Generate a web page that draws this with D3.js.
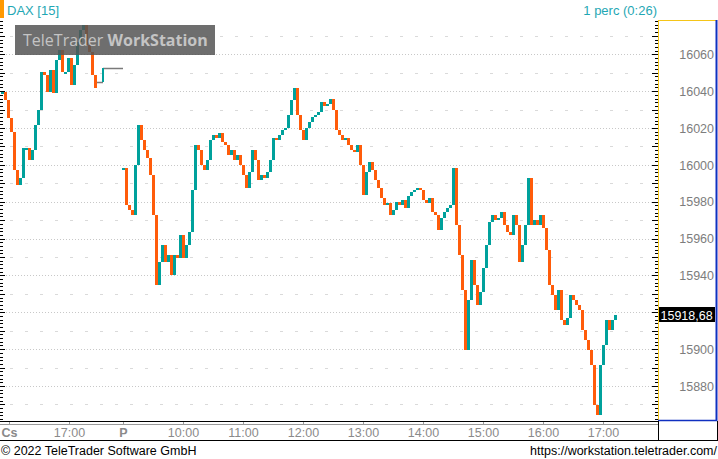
<!DOCTYPE html>
<html><head><meta charset="utf-8">
<script src="https://cdn.jsdelivr.net/npm/d3@7/dist/d3.min.js"></script>
<style>
body{margin:0;background:#fff;overflow:hidden}
svg{display:block;font-family:"Liberation Sans",Arial,sans-serif}
</style>
</head><body>
<svg id="chart" width="718" height="459"></svg>
<script>
// ---------------- data ----------------
const instrument = "DAX [15]";
const intervalLabel = "1 perc (0:26)";
const prevSession = ["15:51", "17:54"];
const todaySession = ["09:00", "17:55"];
const stepMinutes = 3;
const prevStart = "15:53";
const prevCloses = [16039.5,16035.2,16025.4,16017.8,15997.2,15989.1,15992.9,16009.1,16009.1,16002.6,
  16008.1,16021.6,16029.8,16050.4,16048.8,16039.5,16051.5,16039.0,16056.9,16062.3,
  16050.4,16050.4,16058.0,16043.3,16054.2,16066.7,16073.2,16075.9,16065.0,16061.2,
  16048.8,16041.7];
const afterHours = [["17:28","17:34",16045.0],["17:34","17:54",16052.6]];
const todayStart = "09:00";
const todayCloses = [15998.3,15978.2,15975.5,15972.8,15999.9,16021.6,16013.5,16008.1,16003.7,15994.5,
  15972.8,15934.8,15947.3,15956.5,15947.3,15951.1,15940.2,15951.1,15949.5,15961.9,
  15949.5,15956.5,15963.6,15986.4,16010.8,16008.1,15999.9,15997.2,16002.6,16013.5,
  16016.2,16014.6,16017.3,16012.4,16010.8,16005.3,16008.1,16002.6,16005.3,15999.9,
  15994.5,15987.4,15996.1,16008.1,16002.6,15991.8,15994.5,15992.9,15996.1,16002.6,
  16014.6,16013.5,16016.2,16018.9,16020.0,16027.1,16035.2,16041.7,16027.1,16018.9,
  16013.5,16020.0,16023.3,16026.0,16027.1,16028.7,16034.1,16031.9,16033.0,16035.7,
  16029.8,16018.9,16016.2,16013.5,16014.6,16010.8,16008.1,16007.0,16010.8,15999.9,
  15983.6,15996.1,16001.5,15997.2,15991.8,15987.4,15982.0,15978.2,15979.3,15972.8,
  15975.5,15979.8,15978.2,15980.9,15976.6,15983.1,15985.3,15986.4,15987.4,15986.4,
  15980.9,15979.3,15982.0,15974.4,15972.8,15964.6,15971.2,15974.4,15976.6,15978.2,
  15998.3,15967.4,15951.1,15932.1,15899.5,15926.7,15948.4,15934.8,15923.9,15931.0,
  15944.0,15956.5,15969.0,15972.8,15970.1,15971.2,15974.4,15967.4,15963.6,15961.9,
  15972.8,15967.4,15947.3,15956.5,15967.4,15992.9,15967.4,15970.1,15967.4,15972.8,
  15965.7,15953.8,15934.8,15929.4,15921.2,15932.1,15915.8,15913.1,15916.9,15929.4,
  15926.7,15923.9,15921.2,15910.4,15905.0,15899.5,15891.4,15869.7,15864.3,15891.4,
  15902.2,15915.8,15910.4,15915.8,15918.68];
const lastPrice = 15918.68;
const yLabelTicks = [15880,15900,15920,15940,15960,15980,16000,16020,16040,16060];
const yHalfTicks = [15870,15890,15910,15930,15950,15970,15990,16010,16030,16050,16070];
const yDomain = [15861.0, 16078.6];
const xLabels = [
  {session:"prev", time:"16:00", text:"Cs", bold:true},
  {session:"prev", time:"17:00", text:"17:00", bold:false},
  {session:"today", time:"09:00", text:"P", bold:true},
  {session:"today", time:"10:00", text:"10:00", bold:false},
  {session:"today", time:"11:00", text:"11:00", bold:false},
  {session:"today", time:"12:00", text:"12:00", bold:false},
  {session:"today", time:"13:00", text:"13:00", bold:false},
  {session:"today", time:"14:00", text:"14:00", bold:false},
  {session:"today", time:"15:00", text:"15:00", bold:false},
  {session:"today", time:"16:00", text:"16:00", bold:false},
  {session:"today", time:"17:00", text:"17:00", bold:false}
];
const copyright = "\u00a9 2022 TeleTrader Software GmbH";
const url = "https://workstation.teletrader.com/";

// ---------------- layout ----------------
const W = 718, H = 459;
const plot = {left:0, right:658, top:20, bottom:421};
const UP = "#00a19c", DOWN = "#ff5c0a", TEAL_TXT = "#1fa7b4";

const svg = d3.select("#chart");
const mins = t => { const [h,m] = t.split(":").map(Number); return h*60+m; };
const prevLen = mins(prevSession[1]) - mins(prevSession[0]);
const todayLen = mins(todaySession[1]) - mins(todaySession[0]);
const sessIndex = (session, t) => session === "prev"
  ? mins(t) - mins(prevSession[0])
  : prevLen + mins(t) - mins(todaySession[0]);
const addMin = (t, m) => { const v = mins(t)+m; return String(Math.floor(v/60)).padStart(2,"0")+":"+String(v%60).padStart(2,"0"); };

const x = d3.scaleLinear().domain([0, prevLen + todayLen]).range([plot.left, plot.right]);
const y = d3.scaleLinear().domain(yDomain).range([plot.bottom, plot.top]);

// grid
const grid = svg.append("g");
grid.selectAll("line.dot").data(yLabelTicks).join("line")
  .attr("x1", plot.left).attr("x2", plot.right)
  .attr("y1", d => Math.round(y(d)) + 0.5).attr("y2", d => Math.round(y(d)) + 0.5)
  .attr("stroke", "#c8c8c8").attr("stroke-dasharray", "1,2");
grid.selectAll("line.dash").data(yHalfTicks).join("line")
  .attr("x1", plot.left + 10).attr("x2", plot.right)
  .attr("y1", d => Math.round(y(d)) + 0.5).attr("y2", d => Math.round(y(d)) + 0.5)
  .attr("stroke", "#dadada").attr("stroke-dasharray", "3,12");

// bars
function barsFor(session, start, closes) {
  return closes.map((c, i) => {
    const o = i === 0 ? c : closes[i-1];
    return {idx: sessIndex(session, addMin(start, i*stepMinutes)), o, c};
  });
}
const bars = barsFor("prev", prevStart, prevCloses).concat(barsFor("today", todayStart, todayCloses));
svg.append("g").selectAll("rect").data(bars).join("rect")
  .attr("x", d => Math.round(x(d.idx)) - 1)
  .attr("width", 3)
  .attr("y", d => y(Math.max(d.o, d.c)))
  .attr("height", d => Math.max(2, Math.abs(y(d.o) - y(d.c))))
  .attr("fill", d => d.c >= d.o ? UP : DOWN)
  .attr("shape-rendering", "crispEdges");

// after-hours flat segments
const ah = svg.append("g");
afterHours.forEach((s, i) => {
  ah.append("line").attr("x1", x(sessIndex("prev", s[0]))).attr("x2", x(sessIndex("prev", s[1])))
    .attr("y1", Math.round(y(s[2])) + 0.5).attr("y2", Math.round(y(s[2])) + 0.5)
    .attr("stroke", "#7a7a7a").attr("stroke-width", 1.5);
  if (i > 0) {
    const xx = x(sessIndex("prev", s[0]));
    ah.append("line").attr("x1", xx).attr("x2", xx)
      .attr("y1", y(afterHours[i-1][2])).attr("y2", y(s[2]))
      .attr("stroke", s[2] >= afterHours[i-1][2] ? UP : DOWN).attr("stroke-width", 2);
  }
});

// watermark
svg.append("rect").attr("x", 15).attr("y", 25).attr("width", 200).attr("height", 30)
  .attr("fill", "#555").attr("fill-opacity", 0.85);
const wm = svg.append("text").attr("x", 23).attr("y", 46)
  .attr("font-family", "'Open Sans','Noto Sans',sans-serif").attr("font-size", 16)
  .attr("fill", "#c4c4c4");
wm.append("tspan").text("TeleTrader ");
wm.append("tspan").attr("font-weight", "bold").text("WorkStation");

// rulers (left and right)
const rulerVals = d3.range(Math.ceil(yDomain[0]/2)*2, yDomain[1], 2);
const rl = svg.append("g").attr("stroke", "#000");
rl.selectAll("line.l").data(rulerVals).join("line")
  .attr("x1", 0).attr("x2", d => d % 10 === 0 ? 5 : 3)
  .attr("y1", d => Math.round(y(d)) + 0.5).attr("y2", d => Math.round(y(d)) + 0.5);
rl.selectAll("line.r").data(rulerVals).join("line")
  .attr("x1", d => plot.right - (d % 10 === 0 ? 6 : 3)).attr("x2", plot.right)
  .attr("y1", d => Math.round(y(d)) + 0.5).attr("y2", d => Math.round(y(d)) + 0.5);

// right panel frame
svg.append("line").attr("x1", plot.right + 0.5).attr("x2", plot.right + 0.5).attr("y1", plot.top).attr("y2", plot.bottom)
  .attr("stroke", "#f5c518").attr("stroke-width", 1);
svg.append("line").attr("x1", plot.right).attr("x2", W - 1).attr("y1", plot.top + 0.5).attr("y2", plot.top + 0.5)
  .attr("stroke", "#f5c518");
svg.append("line").attr("x1", W - 1.5).attr("x2", W - 1.5).attr("y1", plot.top).attr("y2", plot.bottom)
  .attr("stroke", "#1030c0").attr("stroke-width", 2);
svg.append("line").attr("x1", plot.right).attr("x2", W - 1).attr("y1", plot.bottom - 0.5).attr("y2", plot.bottom - 0.5)
  .attr("stroke", "#1030c0").attr("stroke-width", 1.5);

// y labels
const yAxis = d3.axisRight(y).tickValues(yLabelTicks.filter(v => Math.abs(y(v) - y(lastPrice)) > 10))
  .tickSize(0).tickPadding(0).tickFormat(d3.format("d"));
const yg = svg.append("g").attr("transform", `translate(${W - 4},0)`).call(yAxis);
yg.select(".domain").remove();
yg.selectAll("text").attr("text-anchor", "end").attr("x", 0).attr("dy", "0.34em")
  .attr("font-size", 12.5).attr("font-family", "'Liberation Sans',Arial,sans-serif").attr("fill", "#7d7d7d");

// last price label
const ly = Math.round(y(lastPrice));
svg.append("rect").attr("x", plot.right + 1).attr("y", ly - 8).attr("width", 56).attr("height", 15).attr("fill", "#000");
svg.append("text").attr("x", plot.right + 2.5).attr("y", ly + 4.5).attr("font-size", 12.5)
  .attr("fill", "#fff").text(d3.format(".2f")(lastPrice).replace(".", ","));

// bottom x axis
svg.append("line").attr("x1", 0).attr("x2", plot.right).attr("y1", plot.bottom + 0.5).attr("y2", plot.bottom + 0.5).attr("stroke", "#000");
svg.append("line").attr("x1", 0).attr("x2", plot.right).attr("y1", plot.bottom + 3.5).attr("y2", plot.bottom + 3.5).attr("stroke", "#9a9a9a");
svg.append("line").attr("x1", 0).attr("x2", W).attr("y1", 440.5).attr("y2", 440.5).attr("stroke", "#000");
svg.append("line").attr("x1", plot.right + 0.5).attr("x2", plot.right + 0.5).attr("y1", plot.bottom).attr("y2", 441).attr("stroke", "#000");
svg.append("line").attr("x1", W - 0.5).attr("x2", W - 0.5).attr("y1", plot.bottom).attr("y2", 441).attr("stroke", "#000");
const xg = svg.append("g");
xLabels.forEach(l => {
  const xx = Math.round(x(sessIndex(l.session, l.time))) + 0.5;
  xg.append("line").attr("x1", xx).attr("x2", xx).attr("y1", plot.bottom + 1).attr("y2", plot.bottom + 3).attr("stroke", "#9a9a9a");
  xg.append("text").attr("x", xx).attr("y", 437).attr("text-anchor", "middle")
    .attr("font-size", 12.5).attr("font-weight", l.bold ? "bold" : "normal").attr("fill", "#8a8a8a").text(l.text);
});

// header
svg.append("rect").attr("x", 0).attr("y", 0).attr("width", 4).attr("height", 18).attr("fill", "#ff9900");
svg.append("text").attr("x", 7).attr("y", 15).attr("font-size", 13).attr("fill", TEAL_TXT).text(instrument);
svg.append("text").attr("x", 657).attr("y", 15).attr("text-anchor", "end").attr("font-size", 13).attr("fill", TEAL_TXT).text(intervalLabel);

// footer
svg.append("text").attr("x", 1).attr("y", 455).attr("font-size", 12.5).attr("fill", "#000").text(copyright);
svg.append("text").attr("x", 717).attr("y", 455).attr("text-anchor", "end").attr("font-size", 12.5).attr("fill", "#000").text(url);
</script>
</body></html>
